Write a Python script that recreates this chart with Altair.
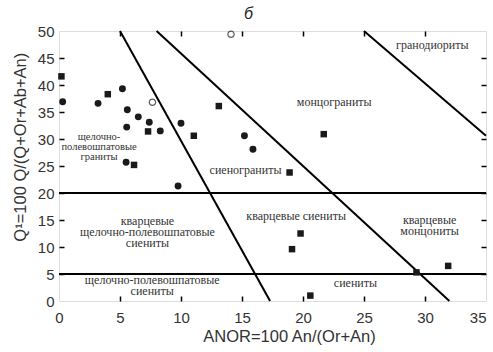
import altair as alt
import pandas as pd

# Field boundaries: pairs of (ANOR, Q') endpoints
seg_id = ["a", "a", "b", "b", "c", "c", "d", "d", "e", "e"]
seg_x = [5, 17.3, 8, 32, 25, 35, 0, 35, 0, 35]
seg_y = [50, 0, 50, 0, 50, 30.6, 20, 20, 5, 5]

# Samples: filled circles
circ_x = [0.3, 3.2, 5.2, 5.6, 6.5, 5.55, 7.4, 8.3, 10.0, 5.5, 9.76, 15.2, 15.9]
circ_y = [36.9, 36.6, 39.3, 35.4, 34.1, 32.2, 33.1, 31.5, 32.9, 25.7, 21.3, 30.6, 28.1]

# Samples: filled squares
sq_x = [0.2, 4.0, 7.3, 6.15, 13.1, 11.05, 21.7, 18.9, 19.8, 19.1, 29.3, 31.9, 20.6]
sq_y = [41.6, 38.3, 31.4, 25.2, 36.1, 30.6, 30.9, 23.8, 12.5, 9.6, 5.3, 6.5, 1.0]

# Samples: open circles
open_x = [7.66, 14.1]
open_y = [36.8, 49.4]

# Field names (anchored at the first line of each name)
field_names = [
    "гранодиориты",
    "монцограниты",
    "сиенограниты",
    "кварцевые\nщелочно-полевошпатовые\nсиениты",
    "кварцевые сиениты",
    "кварцевые\nмонцониты",
    "щелочно-полевошпатовые\nсиениты",
    "сиениты",
]
field_x = [30.6, 22.56, 15.29, 7.25, 19.44, 30.38, 7.64, 24.3]
field_y = [47.4, 36.9, 24.26, 14.87, 15.74, 15.0, 3.89, 3.28]

small_names = ["щелочно-\nполевошпатовые\nграниты"]
small_x = [3.28]
small_y = [30.3]

x_ticks = [0, 5, 10, 15, 20, 25, 30, 35]
y_ticks = [0, 5, 10, 15, 20, 25, 30, 35, 40, 45, 50]
x_inner = x_ticks[1:-1]
y_inner = y_ticks[1:-1]

W, H = 427, 270
FONT = "Liberation Sans"
SERIF = "Liberation Serif"
INK = "#333333"

seg_df = pd.DataFrame({"seg": seg_id, "x": seg_x, "y": seg_y})
circ_df = pd.DataFrame({"x": circ_x, "y": circ_y})
sq_df = pd.DataFrame({"x": sq_x, "y": sq_y})
open_df = pd.DataFrame({"x": open_x, "y": open_y})
field_df = pd.DataFrame({"name": field_names, "x": field_x, "y": field_y})
small_df = pd.DataFrame({"name": small_names, "x": small_x, "y": small_y})

xs = alt.Scale(domain=[0, 35], nice=False, zero=False)
ys = alt.Scale(domain=[0, 50], nice=False, zero=False)


def tick_axis(orient, offset, values):
    # label-less axis moved onto the opposite edge so its ticks point inward
    return alt.Axis(
        orient=orient, offset=offset, values=values, labels=False,
        domain=False, grid=False, ticks=True, tickSize=5, tickWidth=1.5,
        tickColor="black", title=None,
    )


x_main = alt.Axis(
    orient="bottom", values=x_ticks, ticks=False, tickSize=0, domain=False,
    grid=False, labelFont=FONT, labelFontSize=15, labelColor=INK,
    labelPadding=9, labelFlush=False, labelOverlap=False,
    labelAlign=alt.ExprRef(expr="datum.value === 35 ? 'right' : 'center'"),
    title="ANOR=100 An/(Or+An)", titleFont=FONT, titleFontSize=16.5,
    titleFontWeight="normal", titleColor=INK, titleX=230, titleY=40.7,
    titleBaseline="alphabetic", titleAlign="center",
)
y_main = alt.Axis(
    orient="left", values=y_ticks, ticks=False, tickSize=0, domain=False,
    grid=False, labelFont=FONT, labelFontSize=15, labelColor=INK,
    labelPadding=5, labelFlush=False, labelOverlap=False,
    title="Q¹=100 Q/(Q+Or+Ab+An)", titleFont=FONT, titleFontSize=16.5,
    titleFontWeight="normal", titleColor=INK, titleX=-34, titleY=115.7,
    titleBaseline="alphabetic", titleAlign="center", titleAngle=270,
)

# Boundary lines, carrying the labelled axes
lines = alt.Chart(seg_df).mark_line(color="black", strokeWidth=2).encode(
    x=alt.X("x:Q", scale=xs, axis=x_main),
    y=alt.Y("y:Q", scale=ys, axis=y_main),
    detail="seg:N",
)

# Filled circles, carrying inward ticks on the bottom and left edges
circles = alt.Chart(circ_df).mark_point(
    shape="circle", filled=True, size=48, color="#1a1a1a", opacity=1
).encode(
    x=alt.X("x:Q", scale=xs, axis=tick_axis("top", -H, x_inner)),
    y=alt.Y("y:Q", scale=ys, axis=tick_axis("right", -W, y_inner)),
)

# Filled squares, carrying inward ticks on the top and right edges
squares = alt.Chart(sq_df).mark_point(
    shape="square", filled=True, size=42, color="#1a1a1a", opacity=1
).encode(
    x=alt.X("x:Q", scale=xs, axis=tick_axis("bottom", -H, x_inner)),
    y=alt.Y("y:Q", scale=ys, axis=tick_axis("left", -W, y_inner)),
)

opens = alt.Chart(open_df).mark_point(
    shape="circle", filled=False, size=40, color="#1a1a1a", strokeWidth=1.2
).encode(
    x=alt.X("x:Q", scale=xs, axis=None),
    y=alt.Y("y:Q", scale=ys, axis=None),
)

fields = alt.Chart(field_df).mark_text(
    font=SERIF, fontSize=12, color=INK, lineBreak="\n", lineHeight=11,
    align="center", baseline="middle",
).encode(
    x=alt.X("x:Q", scale=xs, axis=None),
    y=alt.Y("y:Q", scale=ys, axis=None),
    text="name:N",
)

small = alt.Chart(small_df).mark_text(
    font=SERIF, fontSize=10.5, color=INK, lineBreak="\n", lineHeight=9.6,
    align="center", baseline="middle",
).encode(
    x=alt.X("x:Q", scale=xs, axis=None),
    y=alt.Y("y:Q", scale=ys, axis=None),
    text="name:N",
)

chart = (
    alt.layer(lines, circles, squares, opens, fields, small)
    .resolve_axis(x="independent", y="independent")
    .properties(
        width=W, height=H,
        autosize=alt.AutoSizeParams(type="none"),
        padding={"left": 59, "top": 31, "right": 7, "bottom": 51},
        title=alt.TitleParams(
            text="б", font=FONT, fontSize=16, fontStyle="italic",
            fontWeight="normal", color="#222222", anchor="middle",
            frame="group", dx=-24, dy=16, offset=5, baseline="alphabetic",
        ),
    )
    .configure_view(stroke="black", strokeWidth=2)
    .configure(background="white")
)

chart.save("out.html", embed_options={"renderer": "svg", "actions": False})
